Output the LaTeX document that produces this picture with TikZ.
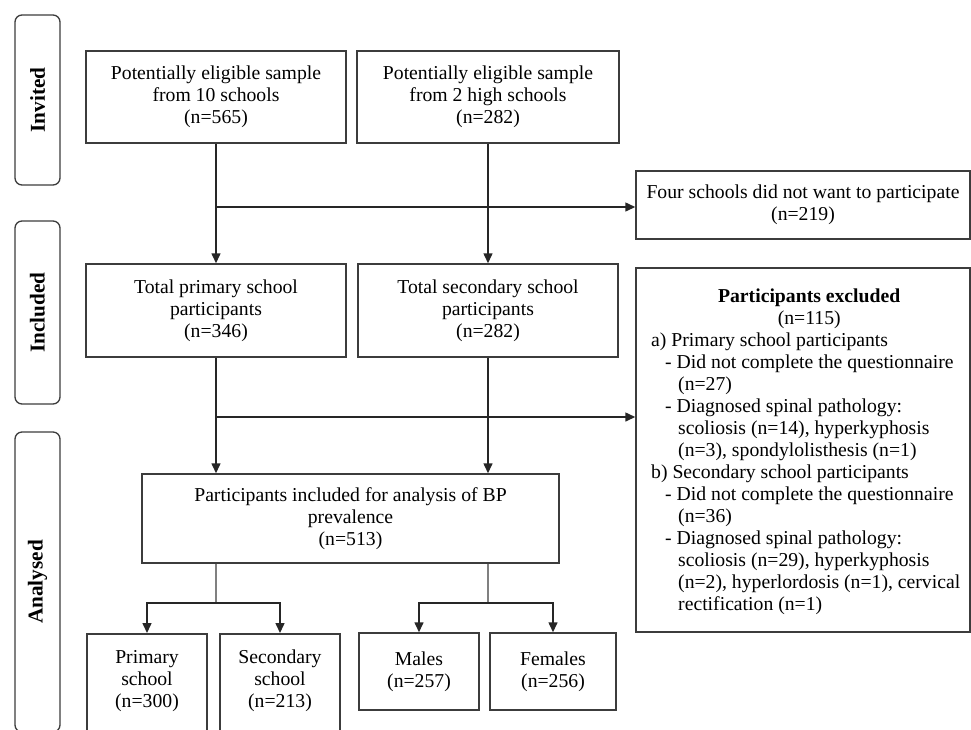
\documentclass[tikz,border=0pt]{standalone}
\usepackage{fontspec}
\setmainfont{Liberation Serif}
\usetikzlibrary{arrows.meta}
\definecolor{boxline}{HTML}{3C3C3C}
\definecolor{stemgray}{HTML}{808080}
\begin{document}
\begin{tikzpicture}[x=1pt,y=-1pt,
  txt/.style={font=\fontsize{19.7}{22}\selectfont},
  box/.style={txt, draw=boxline, line width=1.5pt, inner sep=0pt, align=center,
    execute at begin node={\rule{0pt}{18.5pt}}},
  side/.style={draw=boxline, line width=1.3pt, rounded corners=7pt, rotate=90,
    minimum height=45pt, inner sep=0pt, font=\fontsize{21.2}{24}\selectfont\bfseries},
  arr/.style={-{Triangle[length=10pt,width=9pt]}, line width=1.5pt, draw=black!85},
  stemline/.style={line width=1.6pt, draw=stemgray}]
\useasboundingbox (0,0) rectangle (971,729);
\clip (0,0) rectangle (971,729);
\fill[white] (0,0) rectangle (971,729);

% side labels
\node[side, minimum width=170pt] (inv) at (37.5,100) {Invited};
\node[side, minimum width=183pt] (inc) at (37.5,312.5) {Included};
\node[side, minimum width=300pt] (ana) at (37.5,582) {Analysed};

% boxes
\node[box, minimum width=260pt, minimum height=92pt] (b1) at (216,97)
  {Potentially eligible sample\\from 10 schools\\(n=565)};
\node[box, minimum width=262pt, minimum height=92pt] (b2) at (488,97)
  {Potentially eligible sample\\from 2 high schools\\(n=282)};
\node[box, minimum width=334pt, minimum height=68pt] (four) at (803,205)
  {Four schools did not want to participate\\(n=219)};
\node[box, minimum width=260pt, minimum height=93pt] (b3) at (216,310.5)
  {Total primary school\\participants\\(n=346)};
\node[box, minimum width=260pt, minimum height=93pt] (b4) at (488,310.5)
  {Total secondary school\\participants\\(n=282)};
\node[box, minimum width=334pt, minimum height=364pt] (excl) at (803,450) {};
\node[txt, anchor=west, align=left, inner sep=0pt] (excltext) at (651,451.5) {%
\makebox[316pt][c]{\textbf{Participants excluded}}\\
\makebox[316pt][c]{(n=115)}\\
a) Primary school participants\\
\hspace*{14pt}- Did not complete the questionnaire\\
\hspace*{27pt}(n=27)\\
\hspace*{14pt}- Diagnosed spinal pathology:\\
\hspace*{27pt}scoliosis (n=14), hyperkyphosis\\
\hspace*{27pt}(n=3), spondylolisthesis (n=1)\\
b) Secondary school participants\\
\hspace*{14pt}- Did not complete the questionnaire\\
\hspace*{27pt}(n=36)\\
\hspace*{14pt}- Diagnosed spinal pathology:\\
\hspace*{27pt}scoliosis (n=29), hyperkyphosis\\
\hspace*{27pt}(n=2), hyperlordosis (n=1), cervical\\
\hspace*{27pt}rectification (n=1)};
\node[box, minimum width=417pt, minimum height=89pt] (bp) at (350.5,518.5)
  {Participants included for analysis of BP\\prevalence\\(n=513)};

\node[box, anchor=north, minimum width=120pt, minimum height=112pt] (prim) at (147,633) {};
\node[txt, align=center, inner sep=0pt] (primt) at (147,681) {Primary\\school\\(n=300)};
\node[box, anchor=north, minimum width=120pt, minimum height=112pt] (sec) at (280,633) {};
\node[txt, align=center, inner sep=0pt] (sect) at (280,681) {Secondary\\school\\(n=213)};
\node[box, minimum width=120pt, minimum height=77pt] (male) at (419,671.5) {Males\\(n=257)};
\node[box, minimum width=126pt, minimum height=77pt] (fem) at (553,671.5) {Females\\(n=256)};

% connectors
\draw[arr] (b1.south) -- (b3.north);
\draw[arr] (b2.south) -- (b4.north);
\coordinate (j1) at (216,207);
\draw[arr] (j1) -- (j1 -| four.west);
\draw[arr] (b3.south) -- (b3.south |- bp.north);
\draw[arr] (b4.south) -- (b4.south |- bp.north);
\coordinate (j2) at (216,417);
\draw[arr] (j2) -- (j2 -| excl.west);

\coordinate (s1) at (216,603);
\coordinate (s2) at (488,603);
\draw[stemline] (bp.south -| s1) -- (s1);
\draw[stemline] (bp.south -| s2) -- (s2);
\draw[arr] (s1) -| (prim.north);
\draw[arr] (s1) -| (sec.north);
\draw[arr] (s2) -| (male.north);
\draw[arr] (s2) -| (fem.north);
\end{tikzpicture}
\end{document}
